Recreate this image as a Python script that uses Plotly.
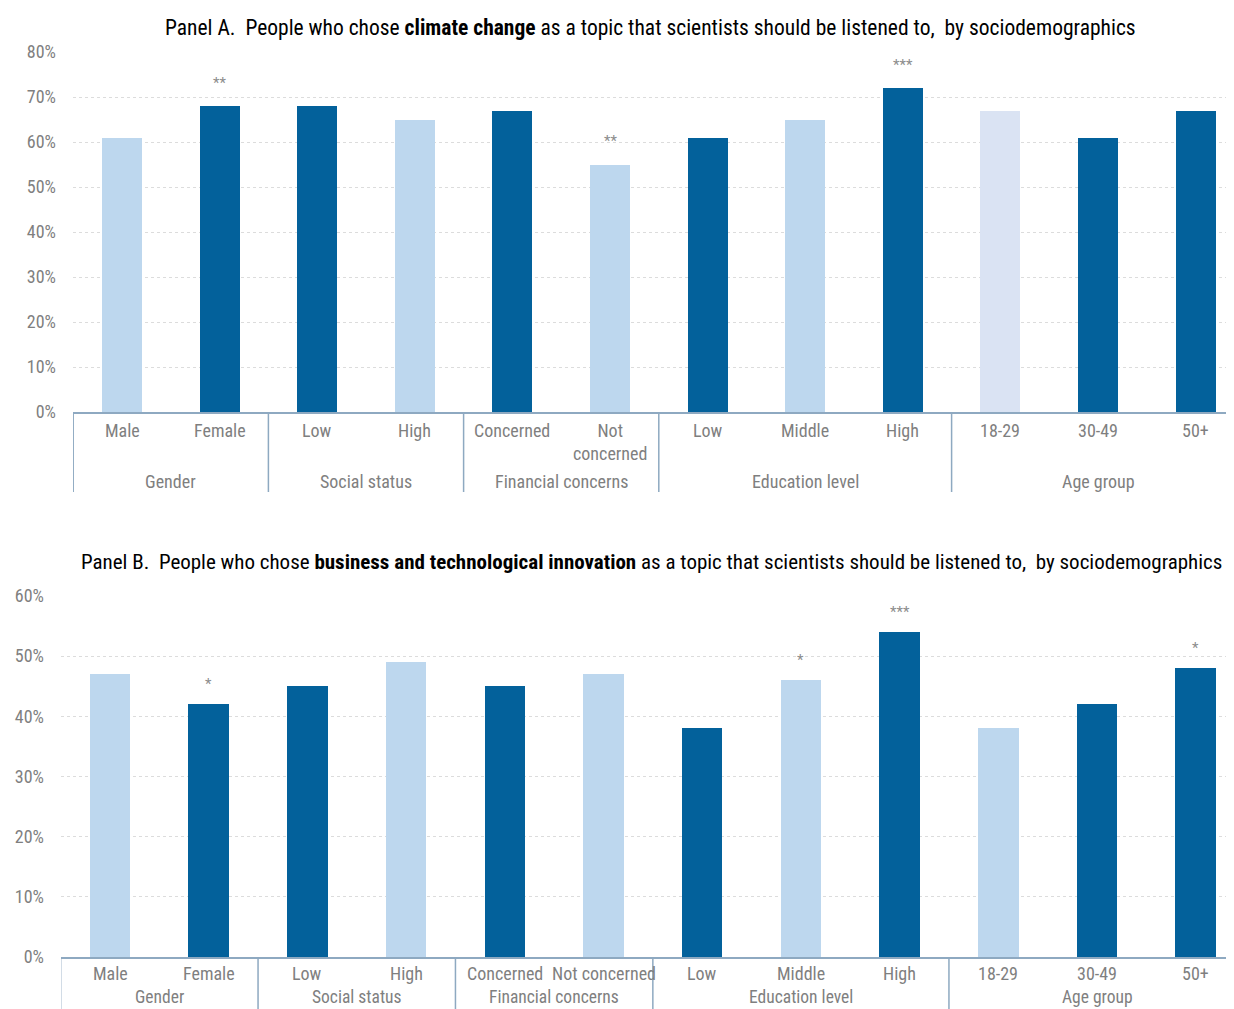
import plotly.graph_objects as go

categories = ["Male", "Female", "Low", "High", "Concerned", "Not concerned",
              "Low", "Middle", "High", "18-29", "30-49", "50+"]
labels_a = ["Male", "Female", "Low", "High", "Concerned", "Not<br>concerned",
            "Low", "Middle", "High", "18-29", "30-49", "50+"]
labels_b = ["Male", "Female", "Low", "High", "Concerned", "Not concerned",
            "Low", "Middle", "High", "18-29", "30-49", "50+"]
groups = ["Gender", "Social status", "Financial concerns", "Education level", "Age group"]
group_sizes = [2, 2, 2, 3, 3]

climate_change = [0.61, 0.68, 0.68, 0.65, 0.67, 0.55, 0.61, 0.65, 0.72, 0.67, 0.61, 0.67]
business_innovation = [0.47, 0.42, 0.45, 0.49, 0.45, 0.47, 0.38, 0.46, 0.54, 0.38, 0.42, 0.48]
sig_a = ["", "**", "", "", "", "**", "", "", "***", "", "", ""]
sig_b = ["", "*", "", "", "", "", "", "*", "***", "", "", "*"]

DARK = "#03619B"
LIGHT = "#BDD7EE"
LIGHTER = "#DAE3F3"
colors_a = [LIGHT, DARK, DARK, LIGHT, DARK, LIGHT, DARK, LIGHT, DARK, LIGHTER, DARK, DARK]
colors_b = [LIGHT, DARK, DARK, LIGHT, DARK, LIGHT, DARK, LIGHT, DARK, LIGHT, DARK, DARK]

FONT = "Roboto Condensed, DejaVu Sans Condensed, Liberation Sans, Arial, sans-serif"
GRAY = "#7F7F7F"
AXIS = "#8EA9C1"
OFF = 8  # page body margin
W, H = 1234 - OFF, 1009 - OFF


def px(sx):
    return (sx - OFF) / W


def py(sy):
    return 1 - (sy - OFF) / H


x = list(range(len(categories)))

fig = go.Figure()
fig.add_trace(go.Bar(x=x, y=climate_change, marker=dict(color=colors_a, line=dict(width=0)),
                     width=0.41, xaxis="x", yaxis="y", showlegend=False))
fig.add_trace(go.Bar(x=x, y=business_innovation, marker=dict(color=colors_b, line=dict(width=0)),
                     width=0.41, xaxis="x2", yaxis="y2", showlegend=False))

common_y = dict(tickformat=".0%", showgrid=True, gridcolor="#DCDCDC", griddash="dot",
                gridwidth=1, zeroline=False, showline=False, ticks="", automargin=False,
                tickfont=dict(family=FONT, size=18, color=GRAY), ticklabelstandoff=16)
common_x = dict(showticklabels=False, showgrid=False, zeroline=False, showline=True,
                linecolor=AXIS, linewidth=1.5, ticks="", automargin=False)

# panel A: bar 0 centred at screen x 122, spacing 97.6 px; plot from x 73
sa, ca = 97.6, 122
sb, cb = 98.7, 110
right = 1234
fig.update_layout(
    width=W, height=H, margin=dict(l=0, r=0, t=0, b=0, autoexpand=False),
    plot_bgcolor="white", paper_bgcolor="white", bargap=0,
    xaxis=dict(domain=[px(73), 1], range=[(73 - ca) / sa, (right - ca) / sa], anchor="y", **common_x),
    yaxis=dict(domain=[py(412), py(52)], range=[0, 0.8], dtick=0.1, anchor="x", **common_y),
    xaxis2=dict(domain=[px(61), 1], range=[(61 - cb) / sb, (right - cb) / sb], anchor="y2", **common_x),
    yaxis2=dict(domain=[py(957), py(596)], range=[0, 0.6], dtick=0.1, anchor="x2", **common_y),
)

ann = []
shapes = []


def panel(xref, yref, labels, values, sig, y_axis_px, cat_px, grp_px, div_bottom_px, sig_shift, grp_size):
    for i, lab in enumerate(labels):
        ann.append(dict(x=i, y=py(cat_px), xref=xref, yref="paper", text=lab, showarrow=False,
                        yanchor="top", font=dict(family=FONT, size=18, color=GRAY)))
        if sig[i]:
            ann.append(dict(x=i, y=values[i], xref=xref, yref=yref, text=sig[i], showarrow=False,
                            yanchor="middle", yshift=sig_shift,
                            font=dict(family=FONT, size=15, color="#8C8C8C")))
    start = 0
    bounds = [-0.5]
    for g, n in zip(groups, group_sizes):
        center = start + (n - 1) / 2
        ann.append(dict(x=center, y=py(grp_px), xref=xref, yref="paper", text=g, showarrow=False,
                        yanchor="top", font=dict(family=FONT, size=grp_size, color=GRAY)))
        start += n
        bounds.append(start - 0.5)
    for b in bounds:
        shapes.append(dict(type="line", xref=xref, yref="paper", x0=b, x1=b,
                           y0=py(y_axis_px), y1=py(div_bottom_px),
                           line=dict(color=AXIS, width=1.5)))


panel("x", "y", labels_a, climate_change, sig_a, 412, 418, 469, 492, 23, 18)
panel("x2", "y2", labels_b, business_innovation, sig_b, 957, 961, 985, 1020, 20, 17.5)

ann.append(dict(x=px(650), y=py(28), xref="paper", yref="paper", showarrow=False,
                text="Panel A.  People who chose <b>climate change</b> as a topic that scientists should be listened to,  by sociodemographics",
                font=dict(family=FONT, size=21.5, color="black"), xanchor="center", yanchor="middle"))
ann.append(dict(x=px(651), y=py(562), xref="paper", yref="paper", showarrow=False,
                text="Panel B.  People who chose <b>business and technological innovation</b> as a topic that scientists should be listened to,  by sociodemographics",
                font=dict(family=FONT, size=21.0, color="black"), xanchor="center", yanchor="middle"))

fig.update_layout(annotations=ann, shapes=shapes)
fig.write_html("out.html")
